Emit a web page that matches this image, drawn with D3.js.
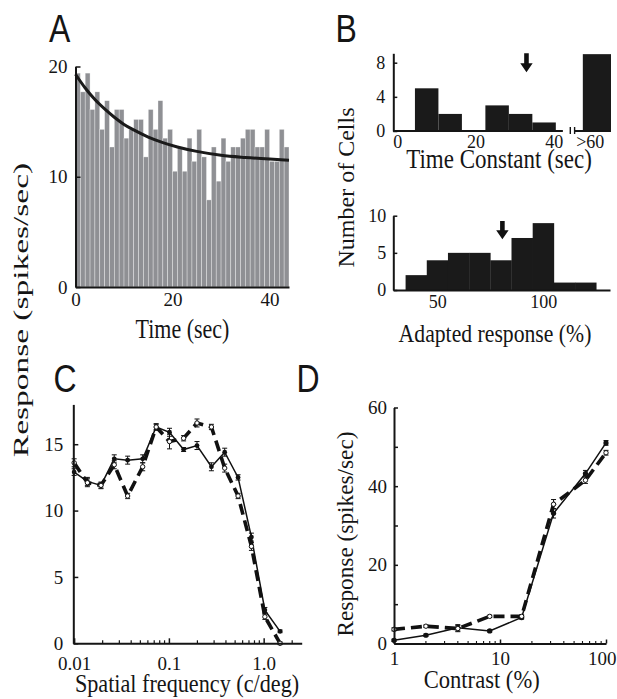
<!DOCTYPE html>
<html>
<head>
<meta charset="utf-8">
<script src="https://cdn.jsdelivr.net/npm/d3@7/dist/d3.min.js"></script>
<style>html,body{margin:0;padding:0;background:#fff;}svg{display:block;}</style>
</head>
<body>
<svg id="fig" width="617" height="699"></svg>
<script>
// ---------------- DATA ----------------
// Panel A: firing rate over time (1-s bins) and exponential fit
const aTimeBins = [0,1,2,3,4,5,6,7,8,9,10,11,12,13,14,15,16,17,18,19,20,21,22,23,24,25,26,27,28,29,30,31,32,33,34,35,36,37,38,39,40,41,42,43];
const aRate = [19.4,17.7,19.4,16.1,17.7,14.3,16.9,12.7,16.1,16.1,13.5,14.3,15.2,15.2,11.8,16.1,14.3,16.9,13.5,14.3,10.5,12.7,10.5,13.5,11.4,14.3,11.8,7.9,12.7,9.6,13.5,11.4,12.7,12.7,13.5,14.3,14.3,12.7,12.7,14.3,11.4,11.4,14.3,12.7];
const aFitTime = [0,2,4,6,8,10,12,15,18,21,25,30,35,40,44];
const aFitRate = [19.3,18.05,17.0,16.15,15.4,14.75,14.25,13.6,13.1,12.7,12.3,11.95,11.75,11.6,11.5];
const aXTicks = [0,20,40];
const aYTicks = [0,10,20];

// Panel B (top): time constants
const tcBinStart = [4.5,10.5,16.5,22.5,28.5,34.5];
const tcBinWidth = 6;
const tcCount = [5,2,0,3,2,1];
const tcOverflowLabel = ">60";
const tcOverflowCount = 9;
const tcXTicks = [0,20,40];
const tcYTicks = [0,4,8];
const tcMean = 33;

// Panel B (bottom): adapted response
const arBinStart = [35,45,55,65,75,85,95,105,115];
const arBinWidth = 10;
const arCount = [2,4,5,5,4,7,9,1,1];
const arXTicks = [50,100];
const arYTicks = [0,5,10];
const arMean = 80.7;

// Panel C: spatial frequency tuning
const sfFreq = [0.01,0.0138,0.0192,0.0265,0.0367,0.0529,0.0734,0.1015,0.143,0.198,0.281,0.388,0.537,0.743,1.03,1.49];
const sfSolid = [12.9,12.2,11.9,13.9,13.8,13.9,16.3,15.9,14.6,14.9,13.3,14.4,12.5,8.0,2.5,0.9];
const sfSolidErr = [0.25,0.3,0.25,0.3,0.3,0.3,0.25,0.3,0.15,0.3,0.3,0.3,0.2,0.3,0.2,0.1];
const sfDashed = [13.6,12.1,11.9,13.45,11.1,13.3,16.3,15.2,15.45,16.6,16.3,13.2,11.1,7.3,2.0,0.0];
const sfDashedErr = [0.3,0.3,0.2,0.3,0.2,0.3,0.2,0.55,0.2,0.3,0.2,0.3,0.2,0.3,0.2,0.1];
const sfYTicks = [0,5,10,15];
const sfMajorTicks = [0.01,0.1,1];
const sfMajorLabels = ["0.01","0.1","1.0"];

// Panel D: contrast response
const contrast = [1,2,4,8,16,32,64,100];
const crSolid = [0.8,2.1,4.0,3.2,6.6,33.1,43.2,51.0];
const crSolidErr = [0.3,0.3,0.8,0.3,0.4,1.2,0.8,0.6];
const crDashed = [3.6,4.4,3.8,6.9,6.9,35.4,41.5,48.5];
const crDashedErr = [0.4,0.3,0.8,0.3,0.4,1.2,0.8,0.6];
const crYTicks = [0,10,20,30,40,50,60];
const crYLabels = [0,20,40,60];
const crXTicks = [1,10,100];

// ---------------- DRAWING ----------------
const SERIF = "'Liberation Serif','Times New Roman',Times,serif";
const SANS = "'Liberation Sans',Arial,Helvetica,sans-serif";
const INK = "#151515";
const svg = d3.select("#fig");
svg.append("rect").attr("width",617).attr("height",699).attr("fill","#fff");

function txt(x, y, s, size, opt = {}) {
  return svg.append("text")
    .attr("transform", `translate(${x},${y}) rotate(${opt.rot||0}) scale(${opt.sx||1},${opt.sy||1})`)
    .attr("font-family", opt.family || SERIF)
    .attr("font-size", size)
    .attr("text-anchor", opt.anchor || "middle")
    .attr("fill", INK)
    .text(s);
}
function styleAxis(g, fs) {
  g.attr("font-family", SERIF).attr("font-size", fs);
  g.select(".domain").attr("stroke", INK).attr("stroke-width", 2);
  g.selectAll(".tick line").attr("stroke", INK).attr("stroke-width", 1.5);
  g.selectAll(".tick text").attr("fill", INK);
}

// Panel letters
txt(49, 42, "A", 32, {family: SANS, anchor: "start", sy: 1.22});
txt(335.5, 42, "B", 32, {family: SANS, anchor: "start", sy: 1.22});
txt(53.5, 392, "C", 32, {family: SANS, anchor: "start", sy: 1.22});
txt(296.5, 392, "D", 32, {family: SANS, anchor: "start", sy: 1.22});

// ===== Panel A =====
{
  const x = d3.scaleLinear().domain([0, 44]).range([75.5, 289]);
  const y = d3.scaleLinear().domain([0, 20]).range([287, 66.5]);
  const g = svg.append("g");
  g.selectAll("rect").data(aTimeBins).join("rect")
    .attr("x", d => x(d)).attr("width", d => x(d + 1) - x(d))
    .attr("y", (d, i) => y(aRate[i])).attr("height", (d, i) => y(0) - y(aRate[i]))
    .attr("fill", "#8f9094").attr("stroke", "#ffffff").attr("stroke-opacity", 0.55).attr("stroke-width", 0.6);
  const line = d3.line().x((d, i) => x(aFitTime[i])).y(d => y(d)).curve(d3.curveMonotoneX);
  g.append("path").attr("d", line(aFitRate)).attr("fill", "none").attr("stroke", "#1a1a1a").attr("stroke-width", 3);
  const gy = svg.append("g").attr("transform", `translate(${x(0)},0)`)
    .call(d3.axisLeft(y).tickValues(aYTicks).tickSizeInner(-5).tickSizeOuter(0).tickPadding(8));
  styleAxis(gy, 19);
  const gx = svg.append("g").attr("transform", `translate(0,${y(0)})`)
    .call(d3.axisBottom(x).tickValues(aXTicks).tickSizeInner(0).tickSizeOuter(0).tickPadding(6));
  styleAxis(gx, 19);
  txt(182.5, 338, "Time (sec)", 22, {sy: 1.2});
}

// Shared left label
txt(27.6, 310, "Response (spikes/sec)", 22, {rot: -90, sx: 1.52});

// ===== Panel B top =====
{
  const x = d3.scaleLinear().domain([-1.03, 54.6]).range([393.3, 611]);
  const y = d3.scaleLinear().domain([0, 9.1]).range([131, 53.3]);
  const g = svg.append("g");
  g.selectAll("rect").data(tcBinStart).join("rect")
    .attr("x", d => x(d)).attr("width", d => x(d + tcBinWidth) - x(d))
    .attr("y", (d, i) => y(tcCount[i])).attr("height", (d, i) => y(0) - y(tcCount[i]))
    .attr("fill", "#1a1a1a");
  // overflow bar (>60)
  g.append("rect").attr("x", x(47.4)).attr("width", x(54.6) - x(47.4))
    .attr("y", y(tcOverflowCount)).attr("height", y(0) - y(tcOverflowCount)).attr("fill", "#1a1a1a");
  // baseline with axis break
  g.append("path").attr("d", `M${x(-1.03)},${y(0)}H${x(42.3)}M${x(45.3)},${y(0)}H${x(54.6)}`)
    .attr("stroke", INK).attr("stroke-width", 2).attr("fill", "none");
  g.append("path").attr("d", `M${x(44.2)},${y(0)-4}V${y(0)+3}M${x(45.3)},${y(0)-4}V${y(0)+3}`)
    .attr("stroke", INK).attr("stroke-width", 1.4);
  const gy = svg.append("g").attr("transform", `translate(${x(-1.03)},0)`)
    .call(d3.axisLeft(y).tickValues(tcYTicks).tickSizeInner(-4).tickSizeOuter(0).tickPadding(8));
  styleAxis(gy, 18);
  const gx = svg.append("g").attr("transform", `translate(0,${y(0)})`)
    .call(d3.axisBottom(x).tickValues(tcXTicks).tickSize(0).tickPadding(4));
  styleAxis(gx, 18);
  gx.select(".domain").remove();
  txt(x(49.3), y(0) + 16.5, tcOverflowLabel, 18);
  // arrow
  const ax = x(tcMean), top = 53.3, tip = 72.3;
  g.append("path").attr("d", `M${ax-2.3},${top}H${ax+2.3}V${tip-9}H${ax+6.2}L${ax},${tip}L${ax-6.2},${tip-9}H${ax-2.3}Z`).attr("fill", "#111");
  txt(499, 168.3, "Time Constant (sec)", 23, {sy: 1.18});
}

// "Number of Cells"
txt(354, 187.5, "Number of Cells", 24, {rot: -90});

// ===== Panel B bottom =====
{
  const x = d3.scaleLinear().domain([29.2, 131.5]).range([393.3, 610]);
  const y = d3.scaleLinear().domain([0, 10]).range([290, 215.7]);
  const g = svg.append("g");
  g.selectAll("rect").data(arBinStart).join("rect")
    .attr("x", d => x(d)).attr("width", d => x(d + arBinWidth) - x(d) + 0.3)
    .attr("y", (d, i) => y(arCount[i])).attr("height", (d, i) => y(0) - y(arCount[i]))
    .attr("fill", "#1a1a1a");
  const gy = svg.append("g").attr("transform", `translate(${x(29.2)},0)`)
    .call(d3.axisLeft(y).tickValues(arYTicks).tickSizeInner(-4).tickSizeOuter(0).tickPadding(7));
  styleAxis(gy, 18);
  const gx = svg.append("g").attr("transform", `translate(0,${y(0)})`)
    .call(d3.axisBottom(x).tickValues(arXTicks).tickSizeInner(0).tickSizeOuter(0).tickPadding(5.5));
  styleAxis(gx, 18);
  const ax = x(arMean), top = 221, tip = 239.3;
  g.append("path").attr("d", `M${ax-2.3},${top}H${ax+2.3}V${tip-9}H${ax+6.2}L${ax},${tip}L${ax-6.2},${tip-9}H${ax-2.3}Z`).attr("fill", "#111");
  txt(495, 341.7, "Adapted response (%)", 21.7, {sy: 1.15});
}

// ===== Panel C =====
{
  const x = d3.scaleLog().domain([0.0098, 2.52]).range([73.3, 301.7]);
  const y = d3.scaleLinear().domain([0, 18]).range([643.3, 404.4]);
  const g = svg.append("g");
  const lineS = d3.line().x((d, i) => x(sfFreq[i])).y(d => y(d));
  g.append("path").attr("d", lineS(sfDashed)).attr("fill", "none").attr("stroke", "#111")
    .attr("stroke-width", 3.6).attr("stroke-dasharray", "11,6");
  g.append("path").attr("d", lineS(sfSolid)).attr("fill", "none").attr("stroke", "#111").attr("stroke-width", 1.5);
  function errs(vals, err) {
    const eg = g.append("g").attr("stroke", "#111").attr("stroke-width", 1);
    vals.forEach((v, i) => {
      const cx = x(sfFreq[i]), y1 = y(v + err[i]), y2 = y(v - err[i]);
      eg.append("path").attr("d", `M${cx},${y1}V${y2}M${cx-2.5},${y1}H${cx+2.5}M${cx-2.5},${y2}H${cx+2.5}`);
    });
  }
  errs(sfSolid, sfSolidErr);
  errs(sfDashed, sfDashedErr);
  g.selectAll("circle.s").data(sfSolid).join("circle").attr("class", "s")
    .attr("cx", (d, i) => x(sfFreq[i])).attr("cy", d => y(d)).attr("r", 2.4).attr("fill", "#111");
  g.selectAll("circle.o").data(sfDashed).join("circle").attr("class", "o")
    .attr("cx", (d, i) => x(sfFreq[i])).attr("cy", d => y(d)).attr("r", 2.2)
    .attr("fill", "#fff").attr("stroke", "#111").attr("stroke-width", 1);
  const gy = svg.append("g").attr("transform", `translate(${x(0.0098)},0)`)
    .call(d3.axisLeft(y).tickValues(sfYTicks).tickSizeInner(-5).tickSizeOuter(0).tickPadding(10));
  styleAxis(gy, 19);
  const minor = x.ticks().filter(t => t > 0.0098 && t < 2.52 && !sfMajorTicks.includes(t));
  const gx = svg.append("g").attr("transform", `translate(0,${y(0)})`)
    .call(d3.axisBottom(x).tickValues(sfMajorTicks).tickFormat((d, i) => sfMajorLabels[i])
      .tickSizeInner(-5).tickSizeOuter(0).tickPadding(13));
  styleAxis(gx, 19);
  gx.selectAll(".minor").data(minor).join("line").attr("class", "minor")
    .attr("x1", d => x(d)).attr("x2", d => x(d)).attr("y1", 0).attr("y2", -3)
    .attr("stroke", INK).attr("stroke-width", 1.2);
  txt(187, 691.7, "Spatial frequency (c/deg)", 22.2, {sy: 1.15});
}

// ===== Panel D =====
{
  const x = d3.scaleLog().domain([1, 100]).range([394, 606]);
  const y = d3.scaleLinear().domain([0, 60]).range([643.5, 407.5]);
  const g = svg.append("g");
  const ln = d3.line().x((d, i) => x(contrast[i])).y(d => y(d));
  g.append("path").attr("d", ln(crSolid)).attr("fill", "none").attr("stroke", "#111").attr("stroke-width", 1.5);
  g.append("path").attr("d", ln(crDashed)).attr("fill", "none").attr("stroke", "#111")
    .attr("stroke-width", 3.6).attr("stroke-dasharray", "11,6");
  function errs(vals, err) {
    const eg = g.append("g").attr("stroke", "#111").attr("stroke-width", 1);
    vals.forEach((v, i) => {
      const cx = x(contrast[i]), y1 = y(v + err[i]), y2 = y(v - err[i]);
      eg.append("path").attr("d", `M${cx},${y1}V${y2}M${cx-2.5},${y1}H${cx+2.5}M${cx-2.5},${y2}H${cx+2.5}`);
    });
  }
  errs(crSolid, crSolidErr);
  errs(crDashed, crDashedErr);
  g.selectAll("circle.s").data(crSolid).join("circle").attr("class", "s")
    .attr("cx", (d, i) => x(contrast[i])).attr("cy", d => y(d)).attr("r", 2.6).attr("fill", "#111");
  g.selectAll("circle.o").data(crDashed).join("circle").attr("class", "o")
    .attr("cx", (d, i) => x(contrast[i])).attr("cy", d => y(d)).attr("r", 2.2)
    .attr("fill", "#fff").attr("stroke", "#111").attr("stroke-width", 1);
  const gy = svg.append("g").attr("transform", `translate(${x(1)},0)`)
    .call(d3.axisLeft(y).tickValues(crYTicks).tickFormat(d => crYLabels.includes(d) ? d : "")
      .tickSizeInner(-4).tickSizeOuter(0).tickPadding(7));
  styleAxis(gy, 19);
  const minor = x.ticks().filter(t => !crXTicks.includes(t));
  const gx = svg.append("g").attr("transform", `translate(0,${y(0)})`)
    .call(d3.axisBottom(x).tickValues(crXTicks).tickFormat(d3.format("d"))
      .tickSizeInner(-4).tickSizeOuter(0).tickPadding(8));
  styleAxis(gx, 19);
  // keep the last label inside the picture edge
  gx.selectAll(".tick text").filter(d => d === 100)
    .attr("text-anchor", "end").attr("x", 616 - x(100));
  gx.selectAll(".minor").data(minor).join("line").attr("class", "minor")
    .attr("x1", d => x(d)).attr("x2", d => x(d)).attr("y1", 0).attr("y2", -2.5)
    .attr("stroke", INK).attr("stroke-width", 1.1);
  txt(481.7, 688.3, "Contrast (%)", 22.6, {sy: 1.15});
  txt(353, 534, "Response (spikes/sec)", 23.3, {rot: -90});
}
</script>
</body>
</html>
